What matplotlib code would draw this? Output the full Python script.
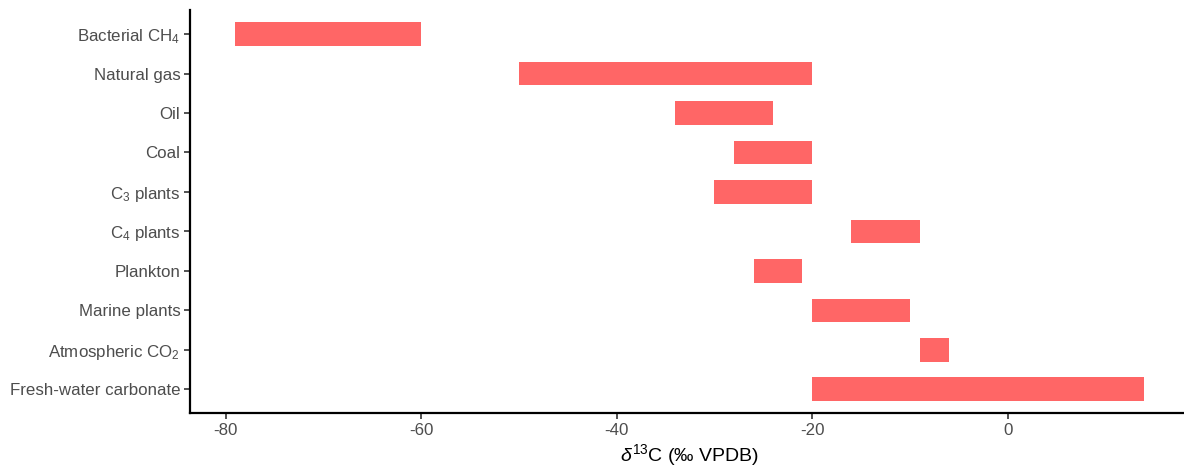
import matplotlib
matplotlib.use('Agg')
import matplotlib.pyplot as plt

# isotope ranges, top to bottom
sources = ['Bacterial CH$_4$', 'Natural gas', 'Oil', 'Coal', 'C$_3$ plants',
           'C$_4$ plants', 'Plankton', 'Marine plants', 'Atmospheric CO$_2$',
           'Fresh-water carbonate']
low = [-79, -50, -34, -28, -30, -16, -26, -20, -9, -20]
high = [-60, -20, -24, -20, -20, -9, -21, -10, -6, 14]
xticks = [-80, -60, -40, -20, 0]

plt.rcParams['font.family'] = ['Liberation Sans', 'DejaVu Sans']
plt.rcParams['mathtext.fontset'] = 'custom'
plt.rcParams['mathtext.rm'] = 'Liberation Sans'
plt.rcParams['mathtext.it'] = 'Liberation Sans:italic'

fig = plt.figure(figsize=(11.84, 4.68), dpi=100)
ax = fig.add_axes([0.1605, 0.1175, 0.8445, 0.8603])

n = len(sources)
ypos = list(range(n, 0, -1))
widths = [h - l for l, h in zip(low, high)]
ax.barh(ypos, widths, left=low, height=0.6, color='#FF6666')

ax.set_ylim(0.4, n + 0.6)
ax.set_xlim(-83.65, 18.65)
ax.set_yticks(ypos)
ax.set_yticklabels(sources)
ax.set_xticks(xticks)
ax.set_xticklabels([str(t) for t in xticks])

for s in ['top', 'right']:
    ax.spines[s].set_visible(False)
for s in ['left', 'bottom']:
    ax.spines[s].set_linewidth(1.6)
    ax.spines[s].set_color('black')

ax.tick_params(axis='both', length=4, width=1.2, color='#333333',
               labelcolor='#4d4d4d', labelsize=12.2, pad=3)
ax.set_xlabel(r'$\delta^{13}$C (‰ VPDB)', fontsize=14, color='black', labelpad=3)

fig.savefig('out.png', dpi=100)
